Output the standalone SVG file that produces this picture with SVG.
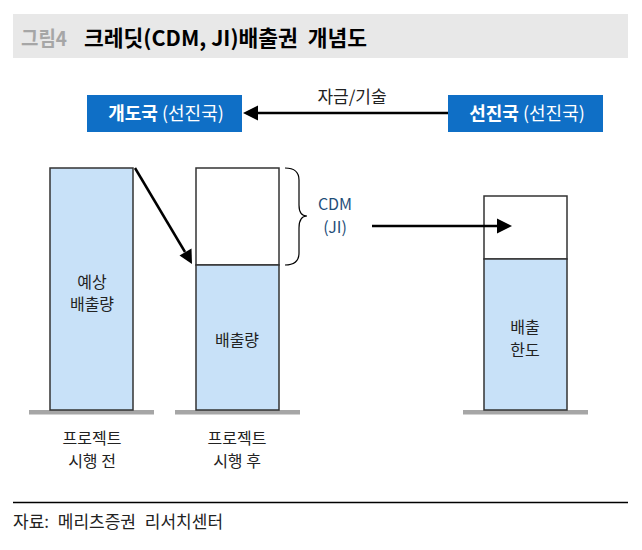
<svg xmlns="http://www.w3.org/2000/svg" width="642" height="550" viewBox="0 0 642 550">
<defs>
<style>
text{font-family:"Noto Sans CJK KR","Noto Sans",sans-serif;}
.t{font-size:16px;fill:#222;text-anchor:middle;}
.bar{fill:#c8e1f8;stroke:#333;stroke-width:1.5;}
.wbar{fill:#fff;stroke:#333;stroke-width:1.5;}
.base{fill:#a6a6a6;}
.box{fill:#0f6fc6;}
.bt{font-size:18px;fill:#fff;text-anchor:middle;}
.ln{stroke:#000;stroke-width:2.5;fill:none;}
</style>
</defs>
<rect width="642" height="550" fill="#fff"/>
<g id="title">
<rect x="13" y="14" width="615" height="44" fill="#e8e8e8"/>
<text x="21" y="46" font-size="20" font-weight="bold" fill="#a6a6a6" textLength="46" lengthAdjust="spacingAndGlyphs">그림4</text>
<text x="84" y="46" font-size="21.5" font-weight="bold" fill="#000" xml:space="preserve">크레딧(CDM, JI)배출권  개념도</text>
</g>
<g id="developing">
<rect class="box" x="87" y="95" width="155" height="37"/>
<text class="bt" x="166" y="120"><tspan font-weight="bold">개도국</tspan> (선진국)</text>
</g>
<g id="developed">
<rect class="box" x="448" y="95" width="155" height="37"/>
<text class="bt" x="527" y="120"><tspan font-weight="bold">선진국</tspan> (선진국)</text>
</g>
<g id="bar-before">
<rect class="base" x="29" y="410" width="125" height="4.5"/>
<rect class="bar" x="50" y="168" width="83" height="242"/>
<text class="t" x="92" y="288">예상</text>
<text class="t" x="92" y="310">배출량</text>
<text class="t" x="92" y="444">프로젝트</text>
<text class="t" x="92" y="467">시행 전</text>
</g>
<g id="bar-after">
<rect class="base" x="175" y="410" width="125" height="4.5"/>
<rect class="wbar" x="196" y="168" width="83" height="97"/>
<rect class="bar" x="196" y="265" width="83" height="145"/>
<text class="t" x="237" y="346">배출량</text>
<text class="t" x="237" y="444">프로젝트</text>
<text class="t" x="237" y="467">시행 후</text>
</g>
<g id="bar-limit">
<rect class="base" x="463" y="410" width="125" height="4.5"/>
<rect class="wbar" x="484" y="196" width="83" height="63"/>
<rect class="bar" x="484" y="259" width="83" height="151"/>
<text class="t" x="525" y="333">배출</text>
<text class="t" x="525" y="356">한도</text>
</g>
<g id="cdm">
<path d="M285,168 Q299,168 299,180 L299,205 Q299,216 307,216 Q299,216 299,228 L299,253 Q299,265 285,265" fill="none" stroke="#000" stroke-width="1.2"/>
<text x="335" y="210" font-size="16" fill="#1f4e79" text-anchor="middle">CDM</text>
<text x="335" y="233" font-size="16" fill="#1f4e79" text-anchor="middle">(JI)</text>
</g>
<g id="connectors">
<line class="ln" x1="448" y1="113" x2="256" y2="113"/>
<path d="M243,113 L258,105.5 L258,120.5 z" fill="#000"/>
<text x="352" y="103" font-size="17" fill="#222" text-anchor="middle">자금/기술</text>
<line class="ln" x1="135" y1="168" x2="185" y2="252"/>
<path d="M192,264 L179.5,255.5 L191.5,248.5 z" fill="#000"/>
<line class="ln" x1="372" y1="226" x2="498" y2="226"/>
<path d="M512,226 L497,218.5 L497,233.5 z" fill="#000"/>
</g>
<g id="footer">
<line x1="13" y1="502.5" x2="628" y2="502.5" stroke="#000" stroke-width="1.3"/>
<text x="13" y="528" font-size="17" fill="#222" word-spacing="5">자료: 메리츠증권 리서치센터</text>
</g>
</svg>
